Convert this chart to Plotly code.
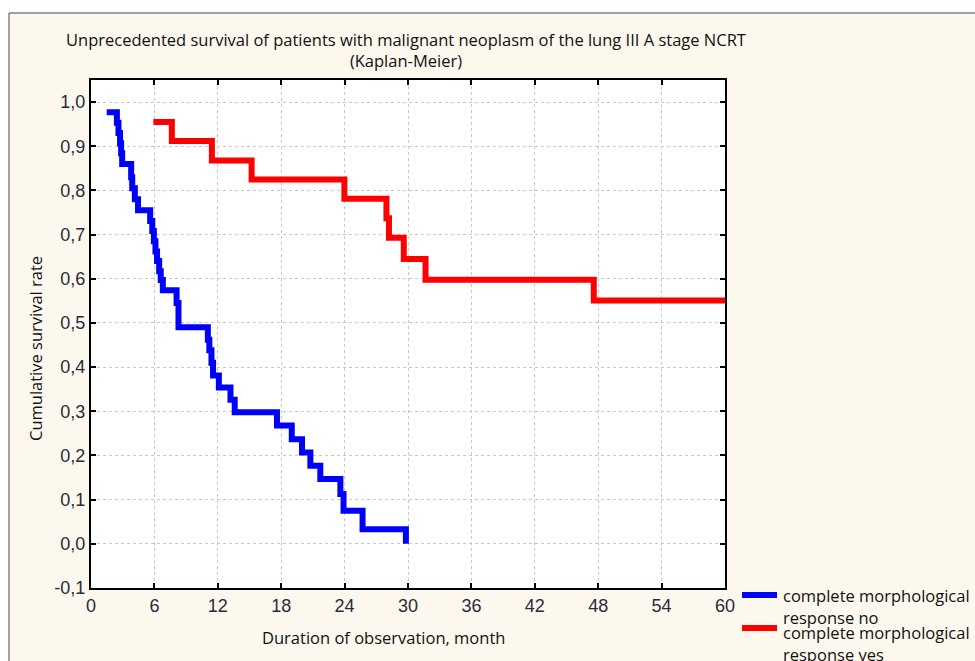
import plotly.graph_objects as go

# ---- data ----
blue_name = "complete morphological<br>response no"
blue_t = [1.49, 2.45, 2.6, 2.75, 2.85, 2.95, 3.8, 3.9, 4.15, 4.45, 5.6, 5.8, 5.95, 6.1,
          6.25, 6.45, 6.6, 6.8, 8.1, 8.28, 11.06, 11.2, 11.4, 11.55, 12.1, 13.2, 13.6,
          17.6, 19.0, 19.97, 20.76, 21.7, 23.6, 23.9, 25.7, 29.8]
blue_s = [0.977, 0.953, 0.930, 0.907, 0.884, 0.860, 0.830, 0.805, 0.780, 0.755, 0.731,
          0.708, 0.685, 0.662, 0.640, 0.617, 0.597, 0.574, 0.545, 0.490, 0.462, 0.438,
          0.410, 0.381, 0.354, 0.326, 0.298, 0.268, 0.237, 0.207, 0.177, 0.147, 0.113,
          0.075, 0.033, 0.0]

red_name = "complete morphological<br>response yes"
red_t = [5.9, 7.65, 11.44, 15.2, 23.98, 27.96, 28.2, 29.6, 31.66, 47.58, 60]
red_s = [0.955, 0.912, 0.868, 0.825, 0.781, 0.737, 0.693, 0.645, 0.598, 0.551, 0.551]

x_ticks = [0, 6, 12, 18, 24, 30, 36, 42, 48, 54, 60]
y_ticks = [-0.1, 0.0, 0.1, 0.2, 0.3, 0.4, 0.5, 0.6, 0.7, 0.8, 0.9, 1.0]
y_ticktext = [f"{v:.1f}".replace(".", ",") for v in y_ticks]

title_text = ("Unprecedented survival of patients with malignant neoplasm of the lung III A stage NCRT"
              "<br>(Kaplan-Meier)")
x_title = "Duration of observation, month"
y_title = "Cumulative survival rate"

# ---- figure ----
W, H = 975, 661
L, R, T, B = 91, 250, 80, 73
pw, ph = W - L - R, H - T - B

def px_x(p):
    return (p - L) / pw

def px_y(p):
    return (H - B - p) / ph

cream = "#FDF8ED"
tickfont = dict(family="Liberation Sans, Arial, sans-serif", size=18, color="#2a2a3a")
txtfont = dict(family="Open Sans, sans-serif", size=16.5, color="#111")

series = [(blue_t, blue_s, blue_name, "#0000FF"), (red_t, red_s, red_name, "#FF0000")]

fig = go.Figure()
for t, s, name, col in series:
    fig.add_trace(go.Scatter(x=t, y=s, mode="lines", line_shape="hv",
                             line=dict(color=col, width=6), name=name, showlegend=False))

axis_common = dict(showline=True, linecolor="black", linewidth=2, mirror="ticks",
                   ticks="inside", ticklen=5, tickwidth=2, tickcolor="black",
                   showgrid=True, gridcolor="#c8c8c8", gridwidth=1, griddash="dot",
                   zeroline=False, tickfont=tickfont)

fig.update_xaxes(range=[0, 60], tickvals=x_ticks, **axis_common)
fig.update_yaxes(range=[-0.1, 1.05], tickvals=y_ticks, ticktext=y_ticktext, **axis_common)

shapes = [
    dict(type="rect", xref="paper", yref="paper", x0=px_x(-10), x1=px_x(W + 10),
         y0=px_y(13), y1=px_y(-10), fillcolor="white", line=dict(width=0), layer="above"),
    dict(type="rect", xref="paper", yref="paper", x0=px_x(-10), x1=px_x(9),
         y0=px_y(H + 10), y1=px_y(-10), fillcolor="white", line=dict(width=0), layer="above"),
    dict(type="line", xref="paper", yref="paper", x0=px_x(9), x1=px_x(W + 10),
         y0=px_y(13), y1=px_y(13), line=dict(color="#444", width=1)),
    dict(type="line", xref="paper", yref="paper", x0=px_x(9), x1=px_x(9),
         y0=px_y(13), y1=px_y(H + 10), line=dict(color="#444", width=1)),
]
annotations = [
    dict(text=title_text, xref="paper", yref="paper", x=px_x(406), y=px_y(26),
         xanchor="center", yanchor="top", showarrow=False, font=txtfont, align="center"),
    dict(text=x_title, xref="paper", yref="paper", x=px_x(383), y=px_y(637),
         xanchor="center", yanchor="middle", showarrow=False, font=txtfont),
    dict(text=y_title, xref="paper", yref="paper", x=px_x(35), y=px_y(348),
         xanchor="center", yanchor="middle", showarrow=False, font=txtfont, textangle=-90),
]

# hand-made legend (tight, as in the reference)
legend_rows = [(595, 595), (628, 632)]  # (sample line y px, first text line y px)
for (ly, ty), (_, _, name, col) in zip(legend_rows, series):
    shapes.append(dict(type="line", xref="paper", yref="paper", x0=px_x(742), x1=px_x(777),
                       y0=px_y(ly), y1=px_y(ly), line=dict(color=col, width=6)))
    line1, line2 = name.split("<br>")
    annotations.append(dict(text=line1, xref="paper", yref="paper", x=px_x(781), y=px_y(ty),
                            xanchor="left", yanchor="middle", showarrow=False,
                            font=dict(family="Open Sans, sans-serif", size=16.5, color="#111")))
    annotations.append(dict(text=line2, xref="paper", yref="paper", x=px_x(781), y=px_y(ty + 22),
                            xanchor="left", yanchor="middle", showarrow=False,
                            font=dict(family="Open Sans, sans-serif", size=16.5, color="#111")))

fig.update_layout(
    width=W, height=H,
    margin=dict(l=L, r=R, t=T, b=B, autoexpand=False),
    paper_bgcolor=cream, plot_bgcolor="white",
    separators=",.",
    showlegend=False,
    shapes=shapes,
    annotations=annotations,
)

fig.write_html("out.html", config={"displayModeBar": False},
               post_script="document.body.style.margin='0';document.body.style.overflow='hidden';")
